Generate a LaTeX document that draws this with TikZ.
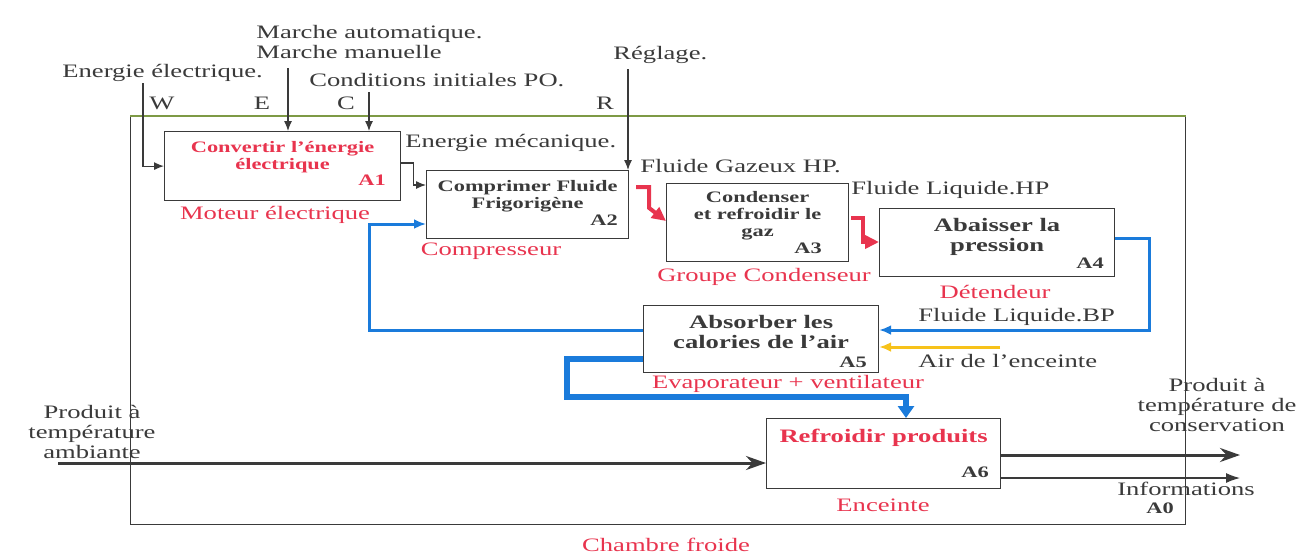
\documentclass[tikz,border=0pt]{standalone}
\usepackage{fontspec}
\setmainfont[FakeStretch=1.4]{Liberation Serif}
\usetikzlibrary{arrows.meta,positioning,calc}
\definecolor{txtgray}{HTML}{3A3A3A}
\definecolor{rouge}{HTML}{E8344E}
\definecolor{bleu}{HTML}{1A7BDB}
\definecolor{jaune}{HTML}{F7C21A}
\definecolor{vert}{HTML}{7E9A45}
\tikzset{
 box/.style 2 args={draw=txtgray,line width=.6pt,inner sep=0pt,minimum width=#1*.5pt,minimum height=#2*.5pt,anchor=north west},
 ttl/.style={font=\fontsize{8}{8.5}\selectfont\bfseries,text=txtgray,align=center,inner sep=0pt},
 ttlbig/.style={ttl,font=\fontsize{9.5}{10}\selectfont\bfseries},
 code/.style={font=\fontsize{8}{8}\selectfont\bfseries,text=txtgray,anchor=south east,inner sep=0pt},
 lbl/.style={font=\fontsize{9.5}{10}\selectfont,text=txtgray,align=center,inner sep=0pt},
 lblw/.style={lbl,anchor=west,align=left},
 rlbl/.style={lbl,text=rouge},
 fl/.style={draw=txtgray,line width=.6pt,-{Latex[length=5pt,width=4pt]}},
 rflow/.style={draw=rouge,line width=2pt,-{Triangle[length=7pt,width=6.5pt]}},
 bflow/.style={draw=bleu,line width=1.5pt,-{Latex[length=6pt,width=5pt]}},
 bthick/.style={draw=bleu,line width=2.6pt,-{Triangle[length=6pt,width=8pt]}},
 yflow/.style={draw=jaune,line width=1.5pt,-{Latex[length=6pt,width=5pt]}},
 prod/.style={draw=txtgray,line width=1.5pt,-{Stealth[length=10pt,width=7pt]}},
}
\begin{document}
\begin{tikzpicture}[x=.5pt,y=-.5pt]
\useasboundingbox (0,0) rectangle (1300,553);
% boites
\node[box={1055}{408}] (a0) at (130,116) {};
\draw[vert,line width=.6pt] (a0.north west)--(a0.north east);
\node[box={236}{69}] (a1) at (164,131) {};
\node[box={202}{68}] (a2) at (426,170) {};
\node[box={182}{78}] (a3) at (666,183) {};
\node[box={235}{68}] (a4) at (879,208) {};
\node[box={235}{67}] (a5) at (643,305) {};
\node[box={234}{70}] (a6) at (766,418) {};
\node[ttl,text=rouge,below=5pt of a1.north] (t1) {Convertir l'énergie\\électrique};
\node[ttl,below=5pt of a2.north] (t2) {Comprimer Fluide\\Frigorigène};
\node[ttl,below=4pt of a3.north] (t3) {Condenser\\et refroidir le\\gaz};
\node[ttlbig,below=5pt of a4.north] (t4) {Abaisser la\\pression};
\node[ttlbig,below=5pt of a5.north] (t5) {Absorber les\\calories de l'air};
\node[ttlbig,text=rouge,below=5.5pt of a6.north] (t6) {Refroidir produits};
\foreach \k/\dx/\dy/\col in {1/7.5/7.5/rouge,2/5.5/6.5/txtgray,3/13.5/4/txtgray,4/5.5/4/txtgray,5/6/2.5/txtgray,6/6/5.5/txtgray}{\node[code,text=\col] (c\k) at ([shift={(-\dx pt,\dy pt)}]a\k.south east) {A\k};}
\node[lbl,font=\fontsize{8}{8}\selectfont\bfseries] (c0) at (1160,508) {A0};
% libelles rouges
\node[rlbl] (m1) at (275,215) {Moteur électrique};
\node[rlbl] (m2) at (491,251) {Compresseur};
\node[rlbl] (m3) at (764,277) {Groupe Condenseur};
\node[rlbl] (m4) at (995,292) {Détendeur};
\node[rlbl] (m5) at (788,384) {Evaporateur + ventilateur};
\node[rlbl] (m6) at (883,505) {Enceinte};
\node[rlbl] (m0) at (666,545) {Chambre froide};
% entrees et controles
\node[lblw] (marche) at (256,42) {Marche automatique.\\Marche manuelle};
\node[lblw] (elec) at (62,73) {Energie électrique.};
\node[lblw] (cond) at (309,80) {Conditions initiales PO.};
\node[lblw] (regl) at (613,55) {Réglage.};
\node[lbl] (w) at (162,103) {W};\node[lbl] (e) at (262,103) {E};\node[lbl] (c) at (346,103) {C};\node[lbl] (r) at (605,103) {R};
\node[lblw] (meca) at (405,143) {Energie mécanique.};
\node[lblw] (gaz) at (640,166) {Fluide Gazeux HP.};
\node[lblw] (liqhp) at (851,190) {Fluide Liquide.HP};
\node[lblw] (liqbp) at (918,317) {Fluide Liquide.BP};
\node[lblw] (air) at (918,361) {Air de l'enceinte};
\node[lbl] (pamb) at (92,432) {Produit à\\température\\ambiante};
\node[lbl] (pcons) at (1217,405) {Produit à\\température de\\conservation};
\node[lbl] (info) at (1186,489) {Informations};
\coordinate (wIn) at (143,83);\coordinate (eIn) at (288,68);\coordinate (cIn) at (369,92);\coordinate (rIn) at (628,69);
\coordinate (airIn) at (1000,347);\coordinate (prodIn) at (58,463);\coordinate (prodOut) at (1240,455);\coordinate (infoOut) at (1240,478);
\draw[fl] (wIn) |- (a1.west);
\draw[fl] (eIn)--(eIn |- a1.north);
\draw[fl] (cIn)--(cIn |- a1.north);
\draw[fl] (rIn)--(rIn |- a2.north);
\draw[fl] ($(a1.north east)+(0,32)$)--++(12,0) |- ($(a2.north west)+(0,15)$);
% circuit du fluide
\draw[rflow] ($(a2.north east)+(7,17)$)--++(13,0)--++(0,21)--($(a3.north west)+(0,38)$);
\draw[rflow] ($(a3.north east)+(2,35)$)--++(12,0)--++(0,24)--($(a4.north west)+(0,34)$);
\draw[bflow] ($(a4.north east)+(0,30)$)--++(34,0) |- ($(a5.north east)+(0,25)$);
\draw[yflow] (airIn)--($(a5.north east)+(0,42)$);
\draw[bflow] ($(a5.north west)+(0,25)$)--++(-274,0) |- ($(a2.north west)+(0,54)$);
\draw[bthick] ($(a5.north west)+(0,54)$)--++(-76,0)--++(0,38) -| ($(a6.north west)+(140,0)$);
% produits
\draw[prod] (prodIn)--($(a6.north west)+(0,45)$);
\draw[prod] ($(a6.north east)+(0,37)$)--(prodOut);
\draw[fl,-{Latex[length=7pt,width=5pt]}] ($(a6.north east)+(0,60)$)--(infoOut);
\end{tikzpicture}
\end{document}
